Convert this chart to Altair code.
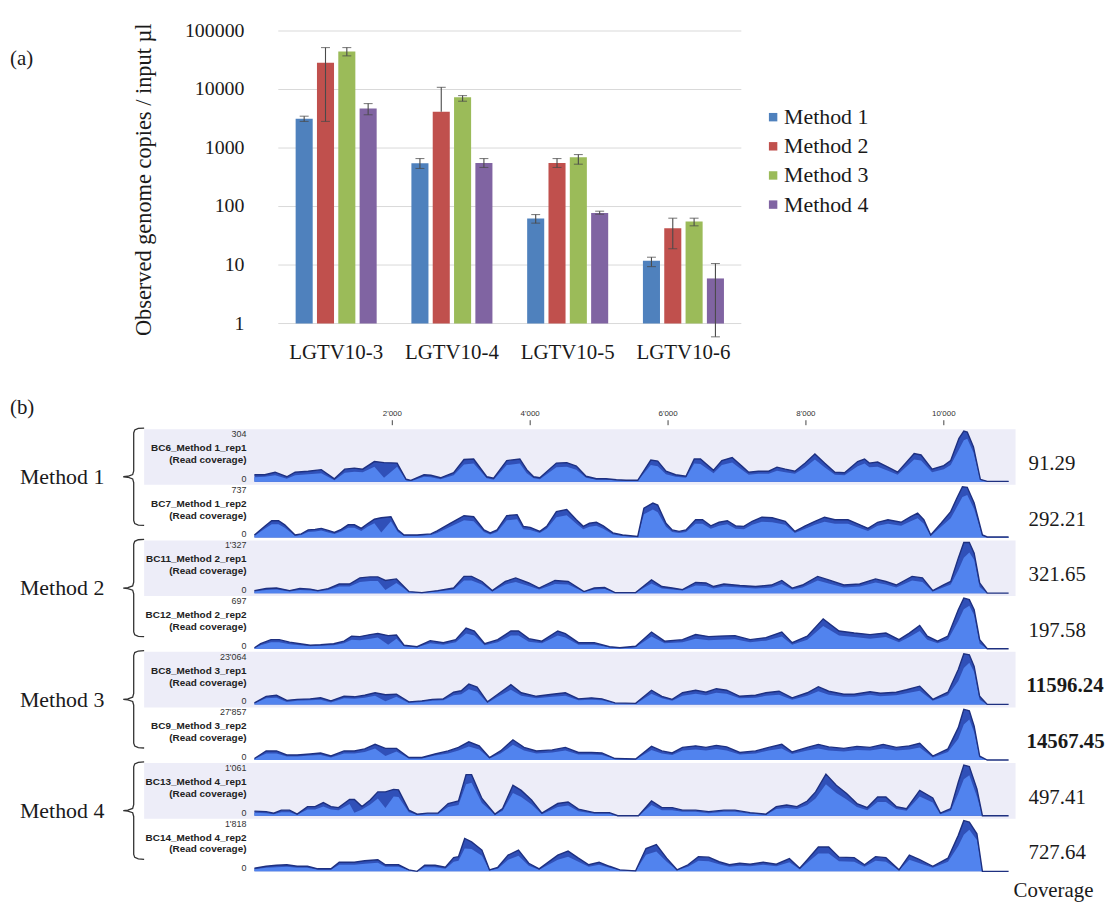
import altair as alt
import pandas as pd

# ---------------- panel (a) data ----------------
CATEGORIES = ["LGTV10-3", "LGTV10-4", "LGTV10-5", "LGTV10-6"]
METHODS = ["Method 1", "Method 2", "Method 3", "Method 4"]
COLORS = ["#4F81BD", "#C0504D", "#9BBB59", "#8064A2"]

M1_MEAN = [3160, 550, 62.4, 11.8]
M1_LOW = [2850, 447, 52, 9.4]
M1_HIGH = [3500, 661, 72.9, 13.6]
M2_MEAN = [28600, 4150, 557, 42.7]
M2_LOW = [2850, 4150, 465, 19.0]
M2_HIGH = [52100, 10900, 661, 63.2]
M3_MEAN = [44600, 7370, 696, 55.5]
M3_LOW = [37600, 6310, 529, 46.8]
M3_HIGH = [52100, 7870, 773, 63.2]
M4_MEAN = [4730, 557, 77.8, 5.9]
M4_LOW = [3700, 465, 73.9, 0.593]
M4_HIGH = [5750, 661, 83.2, 10.6]

Y_TICKS = [1, 10, 100, 1000, 10000, 100000]
Y_TICK_LABELS = ["1", "10", "100", "1000", "10000", "100000"]
Y_TITLE = "Observed genome copies / input µl"

# ---------------- panel (b) data ----------------
TRACK_NAMES = ["BC6_Method 1_rep1", "BC7_Method 1_rep2", "BC11_Method 2_rep1", "BC12_Method 2_rep2",
               "BC8_Method 3_rep1", "BC9_Method 3_rep2", "BC13_Method 4_rep1", "BC14_Method 4_rep2"]
TRACK_MAX = ["304", "737", "1'327", "697", "23'064", "27'857", "1'061", "1'818"]
TRACK_COVERAGE = ["91.29", "292.21", "321.65", "197.58", "11596.24", "14567.45", "497.41", "727.64"]
TRACK_BOLD = [False, False, False, False, True, True, False, False]
GENOME_LEN = 10940
GENOME_TICKS = [2000, 4000, 6000, 8000, 10000]
GENOME_TICK_LABELS = ["2'000", "4'000", "6'000", "8'000", "10'000"]

# coverage profiles: position (bp), outer (max) and inner profile, % of track maximum
T1_POS = [0,150,300,470,590,780,970,1160,1310,1450, 1570,1740,1880,2070,2200,2270,2460,2560,2700,2890,
          3040,3180,3370,3470,3660,3850,3950,4050,4140,4380, 4530,4670,4810,4960,5100,5250,5390,5560,5750,5850,
          5970,6110,6260,6380,6470,6660,6780,6930,7070,7170, 7310,7460,7580,7700,7840,7990,8130,8270,8420,8560,
          8750,8850,8920,9040,9190,9330,9570,9670,9830,10000, 10100,10220,10290,10340,10430,10530,10630,10940]
T1_HI = [14,14,19,10,19,21,24,6,25,27, 25,40,38,37,5,3,14,13,8,18, 44,45,10,7,42,45,24,10,8,37,
         38,31,11,6,6,4,3,3,43,41, 21,14,11,45,45,23,42,48,31,19, 21,21,29,25,21,37,55,37,19,18,
         40,45,37,39,29,19,56,53,25,32, 42,86,100,98,69,5,1,1]
T1_LO = [9,10,13,6,13,15,17,3,18,20, 19,30,8,30,3,1,10,9,5,13, 34,36,7,4,33,36,17,7,5,29,
         30,24,8,4,4,3,2,2,33,31, 15,10,8,36,35,17,33,38,24,14, 16,16,22,19,16,29,44,29,14,13,
         31,36,29,30,22,14,44,42,19,25, 33,64,82,85,58,3,1,1]

T2_POS = [0,150,250,350,440,590,680,780,880,970, 1070,1160,1260,1360,1450,1550,1640,1740,1840,1980,
          2080,2170,2360,2560,2650,2840,3040,3180,3330,3420, 3520,3660,3810,3900,4000,4140,4240,4380,4530,4670,
          4770,4860,4960,5060,5200,5340,5490,5560,5650,5780, 5850,5970,6060,6160,6260,6400,6500,6620,6740,6860,
          6980,7100,7220,7360,7510,7700,7840,7990,8130,8270, 8420,8610,8750,8900,9040,9190,9380,9520,9620,9710,
          9810,9960,10100,10190,10270,10340,10440,10560,10630,10940]
T2_HI = [5,22,33,33,25,5,7,15,16,18, 14,10,16,25,25,18,27,36,39,41, 15,5,5,7,13,28,43,41,15,9,
         15,43,45,22,20,12,22,51,55,35, 22,28,30,23,9,5,3,2,58,68, 64,28,15,12,15,35,35,23,30,33,
         23,22,32,40,39,32,12,23,32,40, 35,35,27,18,30,35,30,41,48,35, 5,28,51,78,100,99,68,5,1,1]
T2_LO = [3,17,26,26,19,3,5,11,12,14, 10,7,12,19,19,13,21,28,10,32, 11,3,3,5,9,21,34,32,11,6,
         11,34,36,16,15,9,17,40,44,27, 16,21,23,17,6,3,2,1,46,55, 50,21,11,9,11,27,27,17,23,26,
         17,16,25,31,30,25,9,17,25,31, 27,27,20,13,23,27,23,32,38,27, 3,21,38,60,80,84,56,3,1,1]

T3_POS = [0,170,320,510,660,810,920,1070,1230,1380, 1530,1680,1790,1900,2060,2240,2430,2660,2890,3040,
          3150,3300,3450,3640,3790,3980,4130,4360,4550,4780, 4930,5080,5230,5530,5760,5910,6060,6210,6400,6550,
          6660,6810,7040,7270,7500,7650,7800,7950,8170,8330, 8550,8780,9010,9160,9310,9540,9690,9840,9990,10100,
          10210,10290,10370,10440,10520,10630,10940]
T3_HI = [5,9,10,5,9,8,5,9,18,18, 30,32,32,25,28,3,1,5,10,33, 33,23,5,23,30,20,10,25,23,3,
         10,11,1,1,26,13,10,7,21,20, 13,18,15,13,16,25,10,16,33,26, 16,18,28,23,16,33,30,5,16,23,
         69,100,100,79,20,0,0]
T3_LO = [3,6,7,3,6,5,3,6,13,13, 22,24,24,6,20,2,1,3,7,25, 25,17,3,17,22,14,7,18,17,2,
         7,8,1,1,19,9,7,5,15,14, 9,13,11,9,11,18,7,11,25,19, 11,13,21,17,11,25,22,3,11,17,
         45,70,80,66,12,0,0]

T4_POS = [0,90,240,360,510,660,810,960,1150,1300, 1410,1530,1680,1790,1940,2060,2170,2360,2550,2740,
          2920,3070,3190,3340,3530,3720,3830,3980,4170,4400, 4510,4700,4930,5150,5300,5530,5760,5950,6210,6400,
          6590,6740,6970,7190,7420,7650,7800,8020,8250,8480, 8700,8930,9160,9350,9500,9650,9760,9910,10060,10210,
          10290,10370,10440,10520,10630,10940]
T4_HI = [2,10,18,18,13,10,7,8,10,15, 25,24,28,30,26,27,7,4,16,12, 18,41,35,10,18,35,35,20,15,35,
         30,12,12,4,2,5,33,15,18,28, 24,25,26,18,22,33,12,25,59,35, 31,28,31,18,31,46,25,15,25,77,
         100,97,77,18,0,0]
T4_LO = [1,7,13,13,9,7,5,6,7,11, 18,17,20,22,8,20,5,3,11,8, 13,30,26,7,13,26,26,14,11,26,
         22,8,8,3,1,3,24,11,13,20, 17,18,19,13,16,24,8,18,45,26, 23,20,23,13,23,35,18,11,18,55,
         78,85,66,10,0,0]

T5_POS = [0,170,320,470,620,810,960,1110,1300,1450, 1600,1750,1900,2060,2240,2430,2580,2740,2890,3000,
          3110,3230,3380,3530,3720,3870,4090,4320,4510,4700, 4890,5040,5230,5530,5760,5910,6060,6210,6400,6550,
          6700,6850,7040,7270,7420,7610,7800,8020,8180,8330, 8550,8700,8930,9080,9310,9460,9650,9840,10060,10210,
          10290,10370,10440,10520,10630,10940]
T5_HI = [3,16,18,8,10,11,13,7,16,15, 18,23,19,20,5,7,10,11,24,27, 40,34,5,20,39,23,16,20,23,11,
         13,11,3,2,28,16,10,23,28,24, 31,28,16,18,23,26,13,23,35,26, 20,20,25,22,24,29,36,10,24,69,
         100,98,75,16,0,0]
T5_LO = [2,12,13,5,7,8,9,4,12,11, 13,17,6,15,3,5,7,8,18,20, 30,25,3,15,29,17,12,15,17,8,
         9,8,2,1,21,12,7,17,21,18, 23,21,12,13,17,19,9,17,26,19, 15,15,19,16,18,22,27,7,18,46,
         72,82,64,9,0,0]

T6_POS = [0,170,320,470,620,810,960,1110,1300,1450, 1600,1750,1900,2060,2240,2430,2620,2810,2960,3110,
          3260,3410,3570,3750,3910,4090,4320,4510,4700,4890, 5040,5230,5530,5760,5910,6060,6210,6400,6550,6700,
          6850,7040,7270,7460,7650,7800,8020,8180,8330,8550, 8740,8930,9120,9310,9500,9650,9840,10060,10210,10290,
          10370,10440,10520,10630,10940]
T6_HI = [3,18,18,10,10,12,14,8,18,18, 22,31,23,23,5,5,12,18,25,36, 28,5,18,40,25,18,20,25,15,15,
         14,3,2,27,18,14,25,28,25,29, 26,15,18,25,31,16,25,31,26,23, 27,25,31,25,28,33,8,22,64,100,
         97,67,8,0,0]
T6_LO = [2,13,13,7,7,9,10,5,13,13, 16,23,8,17,3,3,9,13,19,27, 21,3,13,30,19,13,15,19,11,11,
         10,2,1,20,13,10,19,21,19,22, 19,11,13,19,23,12,19,23,19,17, 20,19,23,19,21,25,5,16,42,70,
         80,55,5,0,0]

T7_POS = [0,170,280,390,510,620,770,880,1000,1110, 1220,1380,1450,1560,1680,1790,1900,2020,2090,2240,
          2360,2510,2660,2810,2960,3070,3150,3300,3490,3600, 3750,3870,4020,4170,4400,4550,4700,4930,5150,5270,
          5570,5760,5910,6060,6210,6400,6590,6810,6970,7190, 7420,7570,7720,7870,8020,8140,8290,8440,8590,8740,
          8890,9040,9160,9310,9460,9650,9840,9950,10100,10210, 10290,10370,10480,10560,10940]
T7_HI = [9,8,5,11,11,3,18,18,26,18, 16,32,32,18,31,47,47,52,51,11, 3,5,5,24,29,81,81,34,3,14,
         60,50,31,5,24,27,13,6,6,0, 0,29,16,16,11,11,8,11,11,6, 3,18,21,18,29,47,82,60,44,24,
         16,37,37,18,14,50,35,5,14,66, 100,97,53,0,0]
T7_LO = [6,5,3,7,7,2,12,12,18,12, 11,23,6,12,22,34,15,38,37,7, 2,3,3,17,21,62,65,25,2,10,
         45,37,22,3,17,20,9,4,4,0, 0,21,11,11,8,8,5,8,8,4, 2,13,15,13,21,34,62,45,32,17,
         11,27,27,13,10,38,26,3,10,44, 72,80,38,0,0]

T8_POS = [0,170,320,470,620,770,920,1110,1230,1450, 1600,1790,1900,2090,2240,2360,2470,2620,2770,2890,
          2960,3050,3150,3300,3410,3530,3680,3830,3980,4130, 4400,4550,4700,4850,5000,5150,5300,5530,5680,5830,
          5980,6130,6290,6440,6590,6740,6890,7040,7190,7380, 7570,7760,7910,8020,8180,8330,8480,8700,8850,9010,
          9160,9350,9500,9650,9840,10060,10210,10290,10370,10480, 10560,10940]
T8_HI = [6,10,12,13,10,10,5,5,18,18, 21,23,13,13,3,0,12,12,8,27, 29,65,58,42,3,8,32,42,16,5,
         32,40,26,13,18,10,3,1,45,53, 26,3,13,29,28,19,13,16,14,18, 14,25,6,23,48,48,28,27,13,29,
         27,3,32,23,10,26,71,100,97,74, 0,0]
T8_LO = [4,7,8,9,7,7,3,3,13,13, 15,17,9,9,2,0,8,8,5,19, 21,45,44,31,2,5,23,31,11,3,
         23,29,19,9,13,7,2,1,33,39, 19,2,9,21,20,14,9,11,10,13, 10,18,4,17,35,35,20,19,9,21,
         19,2,23,16,7,19,50,72,82,62, 0,0]

GROUP_LABELS = ["Method 1", "Method 2", "Method 3", "Method 4"]
BRACE_U = [1.0, 0.72, 0.55, 0.5, 0.5, 0.45, 0.22, 0.0, 0.22, 0.45, 0.5, 0.5, 0.55, 0.72, 1.0]
BRACE_V = [0.0, 0.004, 0.02, 0.05, 0.44, 0.478, 0.495, 0.5, 0.505, 0.522, 0.56, 0.95, 0.98, 0.996, 1.0]

# ---------------- styling / layout constants ----------------
SERIF = "Liberation Serif"
SANS = "Liberation Sans"
INK = "#1a1a1a"
A_LEFT, A_RIGHT, A_TOP, A_BOTTOM = 272, 738, 20.3, 314.7
B_LEFT, B_RIGHT, B_TOP, ROW = 248, 1007, 421, 56
TRACK_BASE, TRACK_AMP = 53, 51

# ---------------- build tables ----------------
means = [M1_MEAN, M2_MEAN, M3_MEAN, M4_MEAN]
lows = [M1_LOW, M2_LOW, M3_LOW, M4_LOW]
highs = [M1_HIGH, M2_HIGH, M3_HIGH, M4_HIGH]
rows = []
for j, m in enumerate(METHODS):
    for i, c in enumerate(CATEGORIES):
        rows.append({"cat": c, "method": m, "val": means[j][i], "lo": lows[j][i],
                     "hi": highs[j][i], "base": 1})
df_a = pd.DataFrame(rows)
df_ticks = pd.DataFrame({"t": Y_TICKS, "lab": Y_TICK_LABELS})
df_methods = pd.DataFrame({"method": METHODS})

profiles = [(T1_POS, T1_HI, T1_LO), (T2_POS, T2_HI, T2_LO), (T3_POS, T3_HI, T3_LO), (T4_POS, T4_HI, T4_LO),
            (T5_POS, T5_HI, T5_LO), (T6_POS, T6_HI, T6_LO), (T7_POS, T7_HI, T7_LO), (T8_POS, T8_HI, T8_LO)]
cov_rows = []
for k, (p, h, l) in enumerate(profiles):
    assert len(p) == len(h) == len(l), (k, len(p), len(h), len(l))
    for a, b, c in zip(p, h, l):
        cov_rows.append({"track": k, "pos": a, "hi": b, "lo": c})
df_cov = pd.DataFrame(cov_rows)
df_tracks = pd.DataFrame({"track": list(range(8)), "name": TRACK_NAMES, "mx": TRACK_MAX,
                          "cov": TRACK_COVERAGE, "bold": TRACK_BOLD})
df_bg = pd.DataFrame({"track": [0, 2, 4, 6]})
df_groups = pd.DataFrame({"k": list(range(4)), "label": GROUP_LABELS})
brace_rows = []
for k in range(4):
    for s, (u, v) in enumerate(zip(BRACE_U, BRACE_V)):
        brace_rows.append({"k": k, "seq": s, "u": u, "v": v})
df_brace = pd.DataFrame(brace_rows)
df_gticks = pd.DataFrame({"pos": GENOME_TICKS, "lab": GENOME_TICK_LABELS})

# ---------------- scales ----------------
XA = alt.Scale(domain=CATEGORIES, range=[A_LEFT, A_RIGHT], paddingInner=0.3, paddingOuter=0.15)
XOFF = alt.Scale(domain=METHODS, paddingInner=0.2, paddingOuter=0)
YA = alt.Scale(type="log", domain=[1, 100000], range=[A_BOTTOM, A_TOP], nice=False)
COL = alt.Scale(domain=METHODS, range=COLORS)
LEGY = alt.Scale(type="point", domain=METHODS, range=[107, 195], padding=0)
XB = alt.Scale(domain=[0, GENOME_LEN], range=[B_LEFT, B_RIGHT], nice=False, zero=False)
YB = alt.Scale(domain=[0, 8], range=[B_TOP, B_TOP + 8 * ROW], nice=False, zero=False)
XBR = alt.Scale(domain=[0, 1], range=[116, 137], nice=False, zero=False)


def txt(s, **kw):
    return alt.Chart(pd.DataFrame({"t": [s]})).mark_text(**kw).encode(text="t:N")


layers = []
# ---- panel (a)
layers.append(alt.Chart(df_ticks).mark_rule(color="#d9d9d9", strokeWidth=1).encode(
    y=alt.Y("t:Q", scale=YA, axis=None), x=alt.value(A_LEFT), x2=alt.value(A_RIGHT)))
layers.append(alt.Chart(df_a).mark_bar().encode(
    x=alt.X("cat:N", scale=XA, axis=None),
    xOffset=alt.XOffset("method:N", scale=XOFF),
    y=alt.Y("val:Q", scale=YA, axis=None), y2="base:Q",
    color=alt.Color("method:N", scale=COL, legend=None)))
layers.append(alt.Chart(df_a).mark_rule(color="#4a4a4a", strokeWidth=1.1).encode(
    x=alt.X("cat:N", scale=XA, axis=None),
    xOffset=alt.XOffset("method:N", scale=XOFF),
    y=alt.Y("lo:Q", scale=YA, axis=None), y2="hi:Q"))
layers.append(alt.Chart(df_a).mark_tick(color="#4a4a4a", thickness=1.1, size=9).encode(
    x=alt.X("cat:N", scale=XA, axis=None),
    xOffset=alt.XOffset("method:N", scale=XOFF),
    y=alt.Y("hi:Q", scale=YA, axis=None)))
layers.append(alt.Chart(df_a).transform_filter("datum.lo < datum.val").mark_tick(
    color="#4a4a4a", thickness=1.1, size=9).encode(
    x=alt.X("cat:N", scale=XA, axis=None),
    xOffset=alt.XOffset("method:N", scale=XOFF),
    y=alt.Y("lo:Q", scale=YA, axis=None)))
layers.append(alt.Chart(df_ticks).mark_text(align="right", baseline="middle", font=SERIF,
                                            fontSize=20, color=INK).encode(
    y=alt.Y("t:Q", scale=YA, axis=None), x=alt.value(238), text="lab:N"))
layers.append(alt.Chart(pd.DataFrame({"cat": CATEGORIES})).mark_text(
    baseline="middle", font=SERIF, fontSize=21, color=INK).encode(
    x=alt.X("cat:N", scale=XA, axis=None), y=alt.value(344), text="cat:N"))
layers.append(txt(Y_TITLE, angle=270, align="center", baseline="middle", font=SERIF,
                  fontSize=22.5, color=INK).encode(x=alt.value(137), y=alt.value(170)))
layers.append(txt("(a)", align="left", baseline="middle", font=SERIF, fontSize=21,
                  color=INK).encode(x=alt.value(2), y=alt.value(49)))
layers.append(alt.Chart(df_methods).mark_square(size=72, opacity=1).encode(
    x=alt.value(770), y=alt.Y("method:N", scale=LEGY, axis=None),
    color=alt.Color("method:N", scale=COL, legend=None)))
layers.append(alt.Chart(df_methods).mark_text(align="left", baseline="middle", font=SERIF,
                                              fontSize=22, color=INK).encode(
    x=alt.value(781), y=alt.Y("method:N", scale=LEGY, axis=None), text="method:N"))

# ---- panel (b)
layers.append(alt.Chart(df_bg).transform_calculate(t2="datum.track + 1").mark_rect(
    color="#EDEDF8").encode(
    y=alt.Y("track:Q", scale=YB, axis=None), y2="t2:Q", x=alt.value(137), x2=alt.value(1014)))

cov = alt.Chart(df_cov).transform_calculate(
    yhi=f"datum.track + ({TRACK_BASE} - {TRACK_AMP} * datum.hi / 100) / {ROW}",
    ylo=f"datum.track + ({TRACK_BASE} - {TRACK_AMP} * datum.lo / 100) / {ROW}",
    ybase=f"datum.track + {TRACK_BASE} / {ROW}")
xpos = alt.X("pos:Q", scale=XB, axis=None)
layers.append(cov.mark_area(color="#3050B8", opacity=1).encode(
    x=xpos, y=alt.Y("yhi:Q", scale=YB, axis=None), y2="ybase:Q", detail="track:N"))
layers.append(cov.mark_area(color="#5183EE", opacity=1).encode(
    x=xpos, y=alt.Y("ylo:Q", scale=YB, axis=None), y2="ybase:Q", detail="track:N"))
layers.append(cov.mark_line(color="#1E3080", strokeWidth=1.4).encode(
    x=xpos, y=alt.Y("yhi:Q", scale=YB, axis=None), detail="track:N"))

trk = alt.Chart(df_tracks)
layers.append(trk.transform_calculate(yy=f"datum.track + 5 / {ROW}").mark_text(
    align="right", baseline="middle", font=SANS, fontSize=9, color="#333").encode(
    x=alt.value(240), y=alt.Y("yy:Q", scale=YB, axis=None), text="mx:N"))
layers.append(trk.transform_calculate(yy=f"datum.track + 19 / {ROW}").mark_text(
    align="right", baseline="middle", font=SANS, fontSize=10, fontWeight="bold", color="#222").encode(
    x=alt.value(240), y=alt.Y("yy:Q", scale=YB, axis=None), text="name:N"))
layers.append(trk.transform_calculate(yy=f"datum.track + 31 / {ROW}", rc="'(Read coverage)'").mark_text(
    align="right", baseline="middle", font=SANS, fontSize=10, fontWeight="bold", color="#222").encode(
    x=alt.value(240), y=alt.Y("yy:Q", scale=YB, axis=None), text="rc:N"))
layers.append(trk.transform_calculate(yy=f"datum.track + 50 / {ROW}", z="'0'").mark_text(
    align="right", baseline="middle", font=SANS, fontSize=9, color="#333").encode(
    x=alt.value(240), y=alt.Y("yy:Q", scale=YB, axis=None), text="z:N"))
layers.append(trk.transform_filter("!datum.bold").transform_calculate(
    yy=f"datum.track + 35 / {ROW}").mark_text(
    align="left", baseline="middle", font=SERIF, fontSize=21, color=INK).encode(
    x=alt.value(1027), y=alt.Y("yy:Q", scale=YB, axis=None), text="cov:N"))
layers.append(trk.transform_filter("datum.bold").transform_calculate(
    yy=f"datum.track + 35 / {ROW}").mark_text(
    align="left", baseline="middle", font=SERIF, fontSize=21, fontWeight="bold", color=INK).encode(
    x=alt.value(1025), y=alt.Y("yy:Q", scale=YB, axis=None), text="cov:N"))

layers.append(alt.Chart(df_groups).transform_calculate(yy="2 * datum.k + 0.86").mark_text(
    align="left", baseline="middle", font=SERIF, fontSize=22, color=INK).encode(
    x=alt.value(12), y=alt.Y("yy:Q", scale=YB, axis=None), text="label:N"))
layers.append(alt.Chart(df_brace).transform_calculate(yy="2 * datum.k - 0.02 + 1.75 * datum.v").mark_line(
    color="#333", strokeWidth=1.3).encode(
    x=alt.X("u:Q", scale=XBR, axis=None), y=alt.Y("yy:Q", scale=YB, axis=None),
    detail="k:N", order="seq:Q"))

layers.append(alt.Chart(df_gticks).mark_text(baseline="middle", font=SANS, fontSize=8, color="#333").encode(
    x=alt.X("pos:Q", scale=XB, axis=None), y=alt.value(406), text="lab:N"))
layers.append(alt.Chart(df_gticks).mark_rule(color="#444", strokeWidth=1).encode(
    x=alt.X("pos:Q", scale=XB, axis=None), y=alt.value(412), y2=alt.value(417)))

layers.append(txt("(b)", align="left", baseline="middle", font=SERIF, fontSize=21,
                  color=INK).encode(x=alt.value(2), y=alt.value(400)))
layers.append(txt("Coverage", align="left", baseline="middle", font=SERIF, fontSize=21,
                  color=INK).encode(x=alt.value(1012), y=alt.value(886)))

chart = alt.layer(*layers).resolve_scale(
    x="independent", y="independent", color="independent", xOffset="independent"
).properties(width=1095, height=884, padding=0).configure_view(stroke=None)

chart.save("out.html", embed_options={"renderer": "svg", "actions": False})
